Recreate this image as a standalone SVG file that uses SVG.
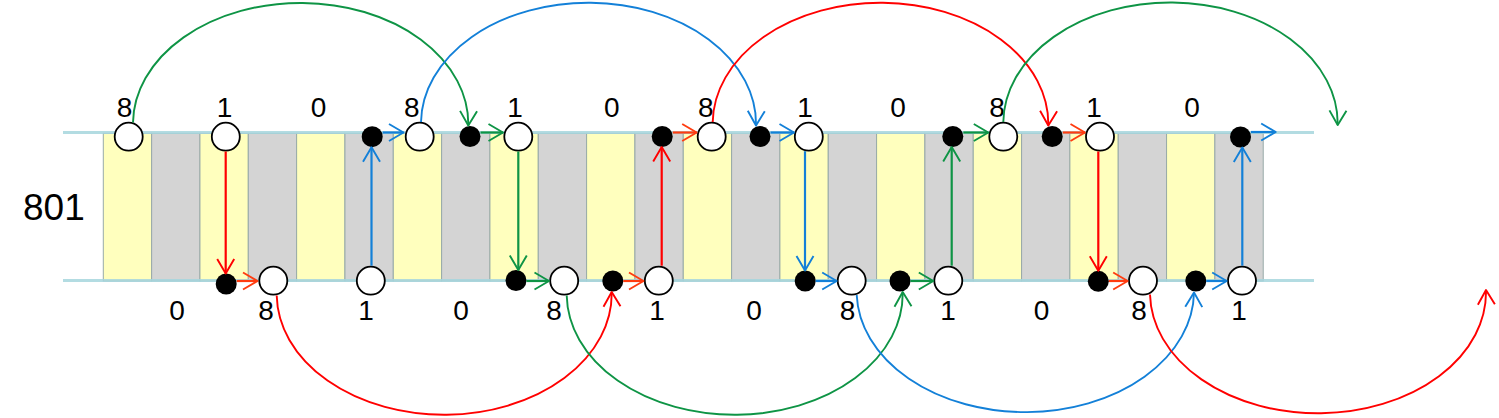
<svg xmlns="http://www.w3.org/2000/svg" width="1499" height="418" viewBox="0 0 1499 418">
<style>
.y{fill:#FFFFBE;stroke:#98AAA8;stroke-width:1}
.g{fill:#D4D4D4;stroke:#98AAA8;stroke-width:1}
.rail{stroke:#A6D6DE;stroke-width:3;opacity:0.85}
.c{fill:#fff;stroke:#000;stroke-width:1.8}
.d{fill:#000}
.lbl{font-family:"Liberation Sans",Arial,sans-serif;font-size:28px;fill:#000;text-anchor:middle}
.big{font-family:"Liberation Sans",Arial,sans-serif;font-size:37px;fill:#000}
.cn{fill:none;stroke-width:1.9}
.G{stroke:#0E9445}.B{stroke:#1380D8}.R{stroke:#FF0000}.O{stroke:#FF3C10}
.s{stroke-width:2.2}
</style>
<defs>
<marker id="mG" markerUnits="userSpaceOnUse" markerWidth="20" markerHeight="20" viewBox="0 0 20 20" refX="16.5" refY="10" orient="auto"><path d="M2,1.5 L16.5,10 L2,18.5" fill="none" stroke="#0E9445" stroke-width="1.9" stroke-linejoin="round"/></marker>
<marker id="mB" markerUnits="userSpaceOnUse" markerWidth="20" markerHeight="20" viewBox="0 0 20 20" refX="16.5" refY="10" orient="auto"><path d="M2,1.5 L16.5,10 L2,18.5" fill="none" stroke="#1380D8" stroke-width="1.9" stroke-linejoin="round"/></marker>
<marker id="mR" markerUnits="userSpaceOnUse" markerWidth="20" markerHeight="20" viewBox="0 0 20 20" refX="16.5" refY="10" orient="auto"><path d="M2,1.5 L16.5,10 L2,18.5" fill="none" stroke="#FF0000" stroke-width="1.9" stroke-linejoin="round"/></marker>
<marker id="mO" markerUnits="userSpaceOnUse" markerWidth="20" markerHeight="20" viewBox="0 0 20 20" refX="16.5" refY="10" orient="auto"><path d="M2,1.5 L16.5,10 L2,18.5" fill="none" stroke="#FF3C10" stroke-width="1.9" stroke-linejoin="round"/></marker>
</defs>
<rect width="1499" height="418" fill="#fff"/>
<g id="strips">
<rect class="y" x="103.3" y="133.3" width="48.33" height="147.7"/>
<rect class="g" x="151.63" y="133.3" width="48.33" height="147.7"/>
<rect class="y" x="199.96" y="133.3" width="48.33" height="147.7"/>
<rect class="g" x="248.29" y="133.3" width="48.33" height="147.7"/>
<rect class="y" x="296.62" y="133.3" width="48.33" height="147.7"/>
<rect class="g" x="344.95" y="133.3" width="48.33" height="147.7"/>
<rect class="y" x="393.28" y="133.3" width="48.33" height="147.7"/>
<rect class="g" x="441.61" y="133.3" width="48.33" height="147.7"/>
<rect class="y" x="489.94" y="133.3" width="48.33" height="147.7"/>
<rect class="g" x="538.27" y="133.3" width="48.33" height="147.7"/>
<rect class="y" x="586.6" y="133.3" width="48.33" height="147.7"/>
<rect class="g" x="634.93" y="133.3" width="48.33" height="147.7"/>
<rect class="y" x="683.26" y="133.3" width="48.33" height="147.7"/>
<rect class="g" x="731.59" y="133.3" width="48.33" height="147.7"/>
<rect class="y" x="779.92" y="133.3" width="48.33" height="147.7"/>
<rect class="g" x="828.25" y="133.3" width="48.33" height="147.7"/>
<rect class="y" x="876.58" y="133.3" width="48.33" height="147.7"/>
<rect class="g" x="924.91" y="133.3" width="48.33" height="147.7"/>
<rect class="y" x="973.24" y="133.3" width="48.33" height="147.7"/>
<rect class="g" x="1021.57" y="133.3" width="48.33" height="147.7"/>
<rect class="y" x="1069.9" y="133.3" width="48.33" height="147.7"/>
<rect class="g" x="1118.23" y="133.3" width="48.33" height="147.7"/>
<rect class="y" x="1166.56" y="133.3" width="48.33" height="147.7"/>
<rect class="g" x="1214.89" y="133.3" width="48.33" height="147.7"/>
</g>
<g id="rails">
<line class="rail" x1="63" y1="132.5" x2="1314" y2="132.5"/>
<line class="rail" x1="63" y1="280.5" x2="1314" y2="280.5"/>
</g>
<text class="big" x="23" y="220">801</text>
<g id="labels-top">
<text class="lbl" x="124.5" y="117">8</text>
<text class="lbl" x="224.5" y="117">1</text>
<text class="lbl" x="318.5" y="117">0</text>
<text class="lbl" x="411.7" y="117">8</text>
<text class="lbl" x="515" y="117">1</text>
<text class="lbl" x="611.7" y="117">0</text>
<text class="lbl" x="705.8" y="117">8</text>
<text class="lbl" x="805" y="117">1</text>
<text class="lbl" x="898" y="117">0</text>
<text class="lbl" x="997" y="117">8</text>
<text class="lbl" x="1094" y="117">1</text>
<text class="lbl" x="1192" y="117">0</text>
</g>
<g id="labels-bottom">
<text class="lbl" x="177" y="319.5">0</text>
<text class="lbl" x="266" y="319.5">8</text>
<text class="lbl" x="366" y="319.5">1</text>
<text class="lbl" x="461" y="319.5">0</text>
<text class="lbl" x="554" y="319.5">8</text>
<text class="lbl" x="657" y="319.5">1</text>
<text class="lbl" x="754" y="319.5">0</text>
<text class="lbl" x="847.5" y="319.5">8</text>
<text class="lbl" x="948" y="319.5">1</text>
<text class="lbl" x="1041.5" y="319.5">0</text>
<text class="lbl" x="1139" y="319.5">8</text>
<text class="lbl" x="1239" y="319.5">1</text>
</g>
<g id="n-t8a"><circle class="c" cx="128.7" cy="136.7" r="14"/></g>
<g id="n-t1a"><circle class="c" cx="225.8" cy="136.7" r="14"/></g>
<g id="n-td1"><circle class="d" cx="372.2" cy="136.7" r="10.5"/></g>
<g id="n-t8b"><circle class="c" cx="419.7" cy="136.7" r="14"/></g>
<g id="n-td2"><circle class="d" cx="470" cy="136.5" r="10.5"/></g>
<g id="n-t1b"><circle class="c" cx="518.3" cy="136.7" r="14"/></g>
<g id="n-td3"><circle class="d" cx="662.2" cy="136.5" r="10.5"/></g>
<g id="n-t8c"><circle class="c" cx="711.7" cy="136.7" r="14"/></g>
<g id="n-td4"><circle class="d" cx="760" cy="136.5" r="10.5"/></g>
<g id="n-t1c"><circle class="c" cx="808.8" cy="136.7" r="14"/></g>
<g id="n-td5"><circle class="d" cx="952.8" cy="136.5" r="10.5"/></g>
<g id="n-t8d"><circle class="c" cx="1003.3" cy="136.7" r="14"/></g>
<g id="n-td6"><circle class="d" cx="1052.2" cy="136.5" r="10.5"/></g>
<g id="n-t1d"><circle class="c" cx="1100" cy="136.7" r="14"/></g>
<g id="n-td7"><circle class="d" cx="1240.5" cy="137" r="10.5"/></g>
<g id="n-bd1"><circle class="d" cx="226.2" cy="284" r="10.5"/></g>
<g id="n-b8a"><circle class="c" cx="273.3" cy="280.7" r="14"/></g>
<g id="n-b1a"><circle class="c" cx="370.8" cy="280.7" r="14"/></g>
<g id="n-bd2"><circle class="d" cx="516" cy="280.5" r="10.5"/></g>
<g id="n-b8b"><circle class="c" cx="564.2" cy="280.7" r="14"/></g>
<g id="n-bd3"><circle class="d" cx="612.8" cy="281" r="10.5"/></g>
<g id="n-b1b"><circle class="c" cx="658.8" cy="280.7" r="14"/></g>
<g id="n-bd4"><circle class="d" cx="805.2" cy="281" r="10.5"/></g>
<g id="n-b8c"><circle class="c" cx="851.7" cy="280.7" r="14"/></g>
<g id="n-bd5"><circle class="d" cx="900" cy="281" r="10.5"/></g>
<g id="n-b1c"><circle class="c" cx="948.3" cy="280.7" r="14"/></g>
<g id="n-bd6"><circle class="d" cx="1098.3" cy="281.3" r="10.5"/></g>
<g id="n-b8d"><circle class="c" cx="1143" cy="280.7" r="14"/></g>
<g id="n-bd7"><circle class="d" cx="1195.8" cy="281" r="10.5"/></g>
<g id="n-b1d"><circle class="c" cx="1242" cy="280.7" r="14"/></g>
<g id="connectors">
<path class="cn G" marker-end="url(#mG)" d="M133,122.5 A167.6,121 0 0 1 468.3,125.5"/>
<path class="cn B" marker-end="url(#mB)" d="M421,122 A167.5,121 0 0 1 756,125.5"/>
<path class="cn R" marker-end="url(#mR)" d="M712.7,122 A167.8,121 0 0 1 1048.3,125.5"/>
<path class="cn G" marker-end="url(#mG)" d="M1003.3,122 A167.2,121 0 0 1 1337.7,125"/>
<path class="cn R" marker-end="url(#mR)" d="M276.7,295.5 A167.5,121 0 0 0 611.7,292"/>
<path class="cn G" marker-end="url(#mG)" d="M566.7,295.5 A168,121 0 0 0 902.7,292"/>
<path class="cn B" marker-end="url(#mB)" d="M856.7,295 A168.7,121 0 0 0 1194,292.5"/>
<path class="cn R" marker-end="url(#mR)" d="M1150,294.5 A168,121 0 0 0 1486,290"/>
<path class="cn R s" marker-end="url(#mR)" d="M225.7,151.5 V273.5"/>
<path class="cn B s" marker-end="url(#mB)" d="M371.5,265.7 V147.2"/>
<path class="cn G s" marker-end="url(#mG)" d="M518.3,151.5 V270"/>
<path class="cn R s" marker-end="url(#mR)" d="M661.7,265.7 V147"/>
<path class="cn B s" marker-end="url(#mB)" d="M805,151.2 V270.5"/>
<path class="cn G s" marker-end="url(#mG)" d="M951.7,265.7 V147"/>
<path class="cn R s" marker-end="url(#mR)" d="M1098.3,151.5 V270.8"/>
<path class="cn B s" marker-end="url(#mB)" d="M1242.3,265.7 V147.5"/>
<path class="cn B s" marker-end="url(#mB)" d="M382.7,132.5 H403.5"/>
<path class="cn G s" marker-end="url(#mG)" d="M480.5,132.5 H503"/>
<path class="cn O s" marker-end="url(#mO)" d="M672.7,132.5 H696.7"/>
<path class="cn B s" marker-end="url(#mB)" d="M770.5,132.5 H794"/>
<path class="cn G s" marker-end="url(#mG)" d="M963.3,132.5 H988.3"/>
<path class="cn O s" marker-end="url(#mO)" d="M1062.7,132.5 H1085"/>
<path class="cn B s" marker-end="url(#mB)" d="M1251,132 H1275.7"/>
<path class="cn O s" marker-end="url(#mO)" d="M236.7,281 H257.5"/>
<path class="cn G s" marker-end="url(#mG)" d="M526.5,281 H549"/>
<path class="cn O s" marker-end="url(#mO)" d="M623.3,281 H643.5"/>
<path class="cn B s" marker-end="url(#mB)" d="M815.7,281 H836.7"/>
<path class="cn G s" marker-end="url(#mG)" d="M910.5,281 H933.3"/>
<path class="cn O s" marker-end="url(#mO)" d="M1108.8,281 H1127.7"/>
<path class="cn B s" marker-end="url(#mB)" d="M1206.3,281 H1226.7"/>
</g>
</svg>
